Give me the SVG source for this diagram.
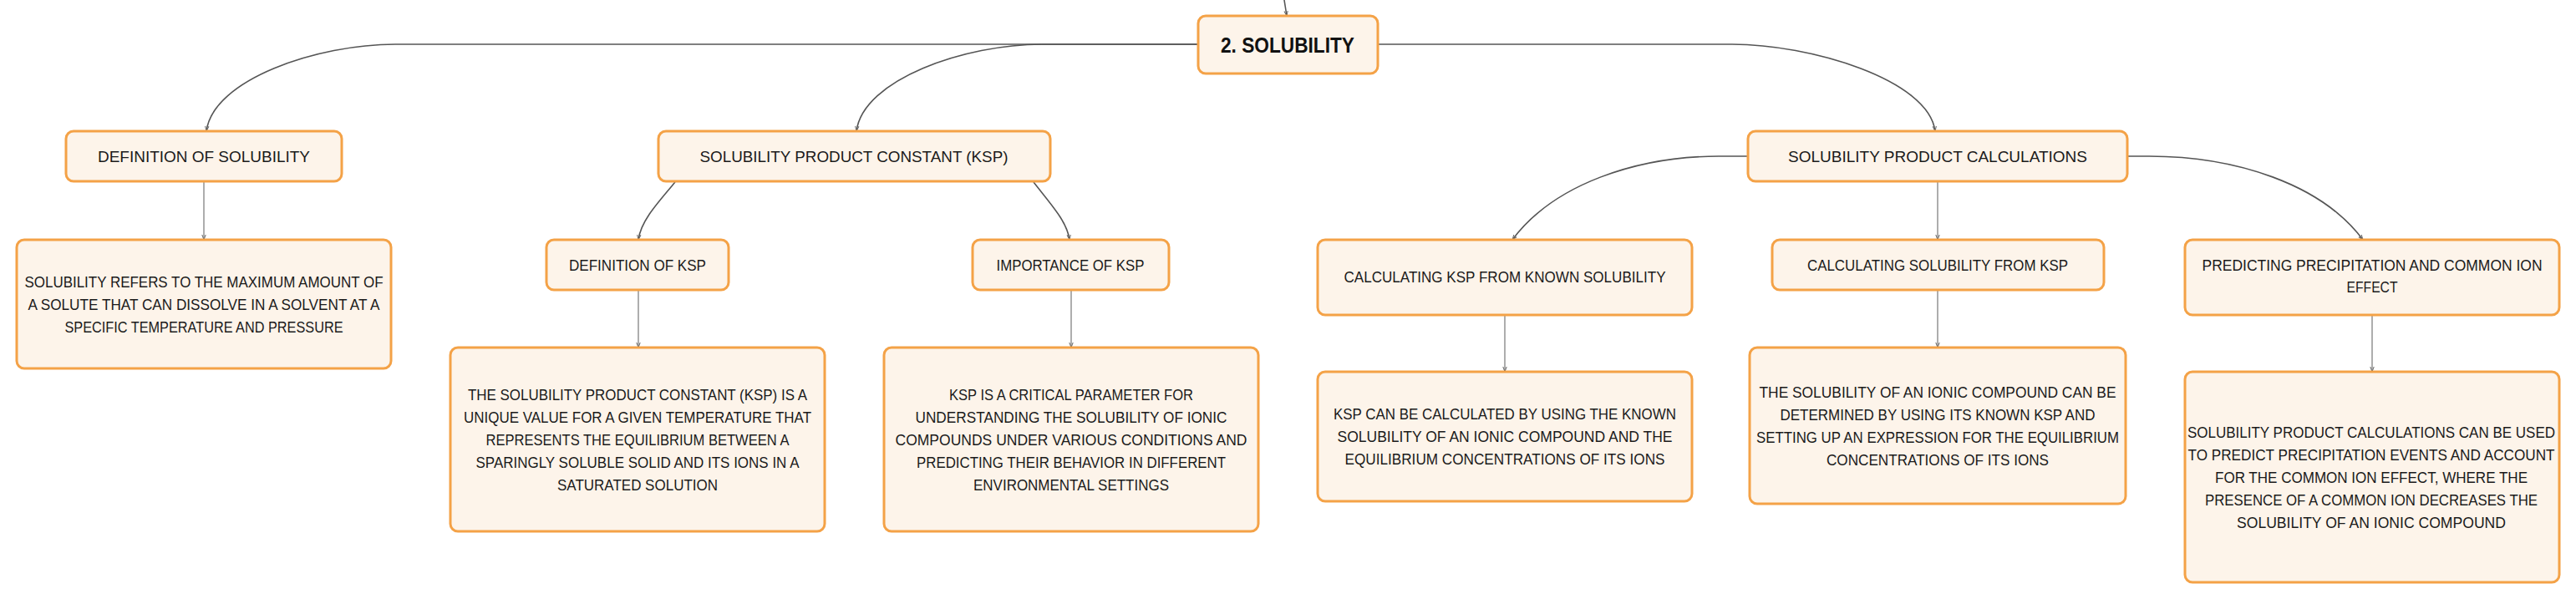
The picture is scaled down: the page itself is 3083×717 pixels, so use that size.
<svg xmlns="http://www.w3.org/2000/svg" width="3083" height="717" viewBox="0 0 3083 717">
<style>
.box{fill:#fdf4ea;stroke:#f4a247;stroke-width:3}
.t{font-family:"Liberation Sans",Arial,sans-serif;font-size:18px;fill:#1a1a1a;text-anchor:middle}
.root{font-family:"Liberation Sans",Arial,sans-serif;font-size:25px;font-weight:bold;fill:#111;text-anchor:middle}
.c{fill:none;stroke:#555;stroke-width:1.6}
.s{fill:none;stroke:#777;stroke-width:1.2}
</style>
<defs>
<marker id="ah" viewBox="0 0 6 6" refX="6" refY="3" markerWidth="6" markerHeight="6" markerUnits="userSpaceOnUse" orient="auto">
<path d="M0,0.8 L6,3 L0,5.2" fill="none" stroke="#666" stroke-width="1"/>
</marker>
</defs>
<rect width="3083" height="717" fill="#fff"/>
<g id="connectors">
<path class="c" d="M1537,0 L1540,19" marker-end="url(#ah)"/>
<path class="c" d="M1434,53 H473 C380,53 255,95 247,157" marker-end="url(#ah)"/>
<path class="c" d="M1434,53 H1247 C1155,53 1033,95 1025,157" marker-end="url(#ah)"/>
<path class="c" d="M1649,53 H2073 C2166,53 2308,95 2316,157" marker-end="url(#ah)"/>
<path class="c" d="M808,218 C785,245 767,265 764,287" marker-end="url(#ah)"/>
<path class="c" d="M1237,218 C1258,245 1277,265 1280,287" marker-end="url(#ah)"/>
<path class="c" d="M2092,187 H2057 C1960,187 1860,220 1810,287" marker-end="url(#ah)"/>
<path class="c" d="M2546,187 H2572 C2675,187 2778,220 2828,287" marker-end="url(#ah)"/>
<path class="s" d="M244,217 V287" marker-end="url(#ah)"/>
<path class="s" d="M764,347 V416" marker-end="url(#ah)"/>
<path class="s" d="M1282,347 V416" marker-end="url(#ah)"/>
<path class="s" d="M1801,377 V445" marker-end="url(#ah)"/>
<path class="s" d="M2319,217 V287" marker-end="url(#ah)"/>
<path class="s" d="M2319,347 V416" marker-end="url(#ah)"/>
<path class="s" d="M2839,377 V445" marker-end="url(#ah)"/>
</g>
<g id="root">
<rect class="box" x="1434" y="19" width="215" height="69" rx="9"/>
<text class="root" x="1541" y="63" textLength="160" lengthAdjust="spacingAndGlyphs">2. SOLUBILITY</text>
</g>
<g id="def-solubility">
<rect class="box" x="79" y="157" width="330" height="60" rx="9"/>
<text class="t" x="244" y="193.5" textLength="254" lengthAdjust="spacingAndGlyphs">DEFINITION OF SOLUBILITY</text>
</g>
<g id="def-solubility-text">
<rect class="box" x="20" y="287" width="448" height="154" rx="9"/>
<text class="t" x="244" y="343.5" textLength="429" lengthAdjust="spacingAndGlyphs">SOLUBILITY REFERS TO THE MAXIMUM AMOUNT OF</text>
<text class="t" x="244" y="370.5" textLength="421" lengthAdjust="spacingAndGlyphs">A SOLUTE THAT CAN DISSOLVE IN A SOLVENT AT A</text>
<text class="t" x="244" y="397.5" textLength="333" lengthAdjust="spacingAndGlyphs">SPECIFIC TEMPERATURE AND PRESSURE</text>
</g>
<g id="ksp">
<rect class="box" x="788" y="157" width="469" height="60" rx="9"/>
<text class="t" x="1022" y="193.5" textLength="369" lengthAdjust="spacingAndGlyphs">SOLUBILITY PRODUCT CONSTANT (KSP)</text>
</g>
<g id="def-ksp">
<rect class="box" x="654" y="287" width="218" height="60" rx="9"/>
<text class="t" x="763" y="323.5" textLength="164" lengthAdjust="spacingAndGlyphs">DEFINITION OF KSP</text>
</g>
<g id="def-ksp-text">
<rect class="box" x="539" y="416" width="448" height="220" rx="9"/>
<text class="t" x="763" y="478.5" textLength="406" lengthAdjust="spacingAndGlyphs">THE SOLUBILITY PRODUCT CONSTANT (KSP) IS A</text>
<text class="t" x="763" y="505.5" textLength="416" lengthAdjust="spacingAndGlyphs">UNIQUE VALUE FOR A GIVEN TEMPERATURE THAT</text>
<text class="t" x="763" y="532.5" textLength="363" lengthAdjust="spacingAndGlyphs">REPRESENTS THE EQUILIBRIUM BETWEEN A</text>
<text class="t" x="763" y="559.5" textLength="387" lengthAdjust="spacingAndGlyphs">SPARINGLY SOLUBLE SOLID AND ITS IONS IN A</text>
<text class="t" x="763" y="586.5" textLength="192" lengthAdjust="spacingAndGlyphs">SATURATED SOLUTION</text>
</g>
<g id="importance-ksp">
<rect class="box" x="1164" y="287" width="235" height="60" rx="9"/>
<text class="t" x="1281" y="323.5" textLength="177" lengthAdjust="spacingAndGlyphs">IMPORTANCE OF KSP</text>
</g>
<g id="importance-ksp-text">
<rect class="box" x="1058" y="416" width="448" height="220" rx="9"/>
<text class="t" x="1282" y="478.5" textLength="292" lengthAdjust="spacingAndGlyphs">KSP IS A CRITICAL PARAMETER FOR</text>
<text class="t" x="1282" y="505.5" textLength="373" lengthAdjust="spacingAndGlyphs">UNDERSTANDING THE SOLUBILITY OF IONIC</text>
<text class="t" x="1282" y="532.5" textLength="421" lengthAdjust="spacingAndGlyphs">COMPOUNDS UNDER VARIOUS CONDITIONS AND</text>
<text class="t" x="1282" y="559.5" textLength="370" lengthAdjust="spacingAndGlyphs">PREDICTING THEIR BEHAVIOR IN DIFFERENT</text>
<text class="t" x="1282" y="586.5" textLength="234" lengthAdjust="spacingAndGlyphs">ENVIRONMENTAL SETTINGS</text>
</g>
<g id="calculations">
<rect class="box" x="2092" y="157" width="454" height="60" rx="9"/>
<text class="t" x="2319" y="193.5" textLength="358" lengthAdjust="spacingAndGlyphs">SOLUBILITY PRODUCT CALCULATIONS</text>
</g>
<g id="calc-ksp">
<rect class="box" x="1577" y="287" width="448" height="90" rx="9"/>
<text class="t" x="1801" y="337.5" textLength="385" lengthAdjust="spacingAndGlyphs">CALCULATING KSP FROM KNOWN SOLUBILITY</text>
</g>
<g id="calc-ksp-text">
<rect class="box" x="1577" y="445" width="448" height="155" rx="9"/>
<text class="t" x="1801" y="502" textLength="410" lengthAdjust="spacingAndGlyphs">KSP CAN BE CALCULATED BY USING THE KNOWN</text>
<text class="t" x="1801" y="529" textLength="401" lengthAdjust="spacingAndGlyphs">SOLUBILITY OF AN IONIC COMPOUND AND THE</text>
<text class="t" x="1801" y="556" textLength="383" lengthAdjust="spacingAndGlyphs">EQUILIBRIUM CONCENTRATIONS OF ITS IONS</text>
</g>
<g id="calc-solubility">
<rect class="box" x="2121" y="287" width="397" height="60" rx="9"/>
<text class="t" x="2319" y="323.5" textLength="312" lengthAdjust="spacingAndGlyphs">CALCULATING SOLUBILITY FROM KSP</text>
</g>
<g id="calc-solubility-text">
<rect class="box" x="2094" y="416" width="450" height="187" rx="9"/>
<text class="t" x="2319" y="475.5" textLength="427" lengthAdjust="spacingAndGlyphs">THE SOLUBILITY OF AN IONIC COMPOUND CAN BE</text>
<text class="t" x="2319" y="502.5" textLength="377" lengthAdjust="spacingAndGlyphs">DETERMINED BY USING ITS KNOWN KSP AND</text>
<text class="t" x="2319" y="529.5" textLength="434" lengthAdjust="spacingAndGlyphs">SETTING UP AN EXPRESSION FOR THE EQUILIBRIUM</text>
<text class="t" x="2319" y="556.5" textLength="266" lengthAdjust="spacingAndGlyphs">CONCENTRATIONS OF ITS IONS</text>
</g>
<g id="predicting">
<rect class="box" x="2615" y="287" width="448" height="90" rx="9"/>
<text class="t" x="2839" y="323.5" textLength="407" lengthAdjust="spacingAndGlyphs">PREDICTING PRECIPITATION AND COMMON ION</text>
<text class="t" x="2839" y="349.5" textLength="61" lengthAdjust="spacingAndGlyphs">EFFECT</text>
</g>
<g id="predicting-text">
<rect class="box" x="2615" y="445" width="448" height="252" rx="9"/>
<text class="t" x="2838" y="523.5" textLength="440" lengthAdjust="spacingAndGlyphs">SOLUBILITY PRODUCT CALCULATIONS CAN BE USED</text>
<text class="t" x="2838" y="550.5" textLength="439" lengthAdjust="spacingAndGlyphs">TO PREDICT PRECIPITATION EVENTS AND ACCOUNT</text>
<text class="t" x="2838" y="577.5" textLength="374" lengthAdjust="spacingAndGlyphs">FOR THE COMMON ION EFFECT, WHERE THE</text>
<text class="t" x="2838" y="604.5" textLength="398" lengthAdjust="spacingAndGlyphs">PRESENCE OF A COMMON ION DECREASES THE</text>
<text class="t" x="2838" y="631.5" textLength="322" lengthAdjust="spacingAndGlyphs">SOLUBILITY OF AN IONIC COMPOUND</text>
</g>
</svg>
